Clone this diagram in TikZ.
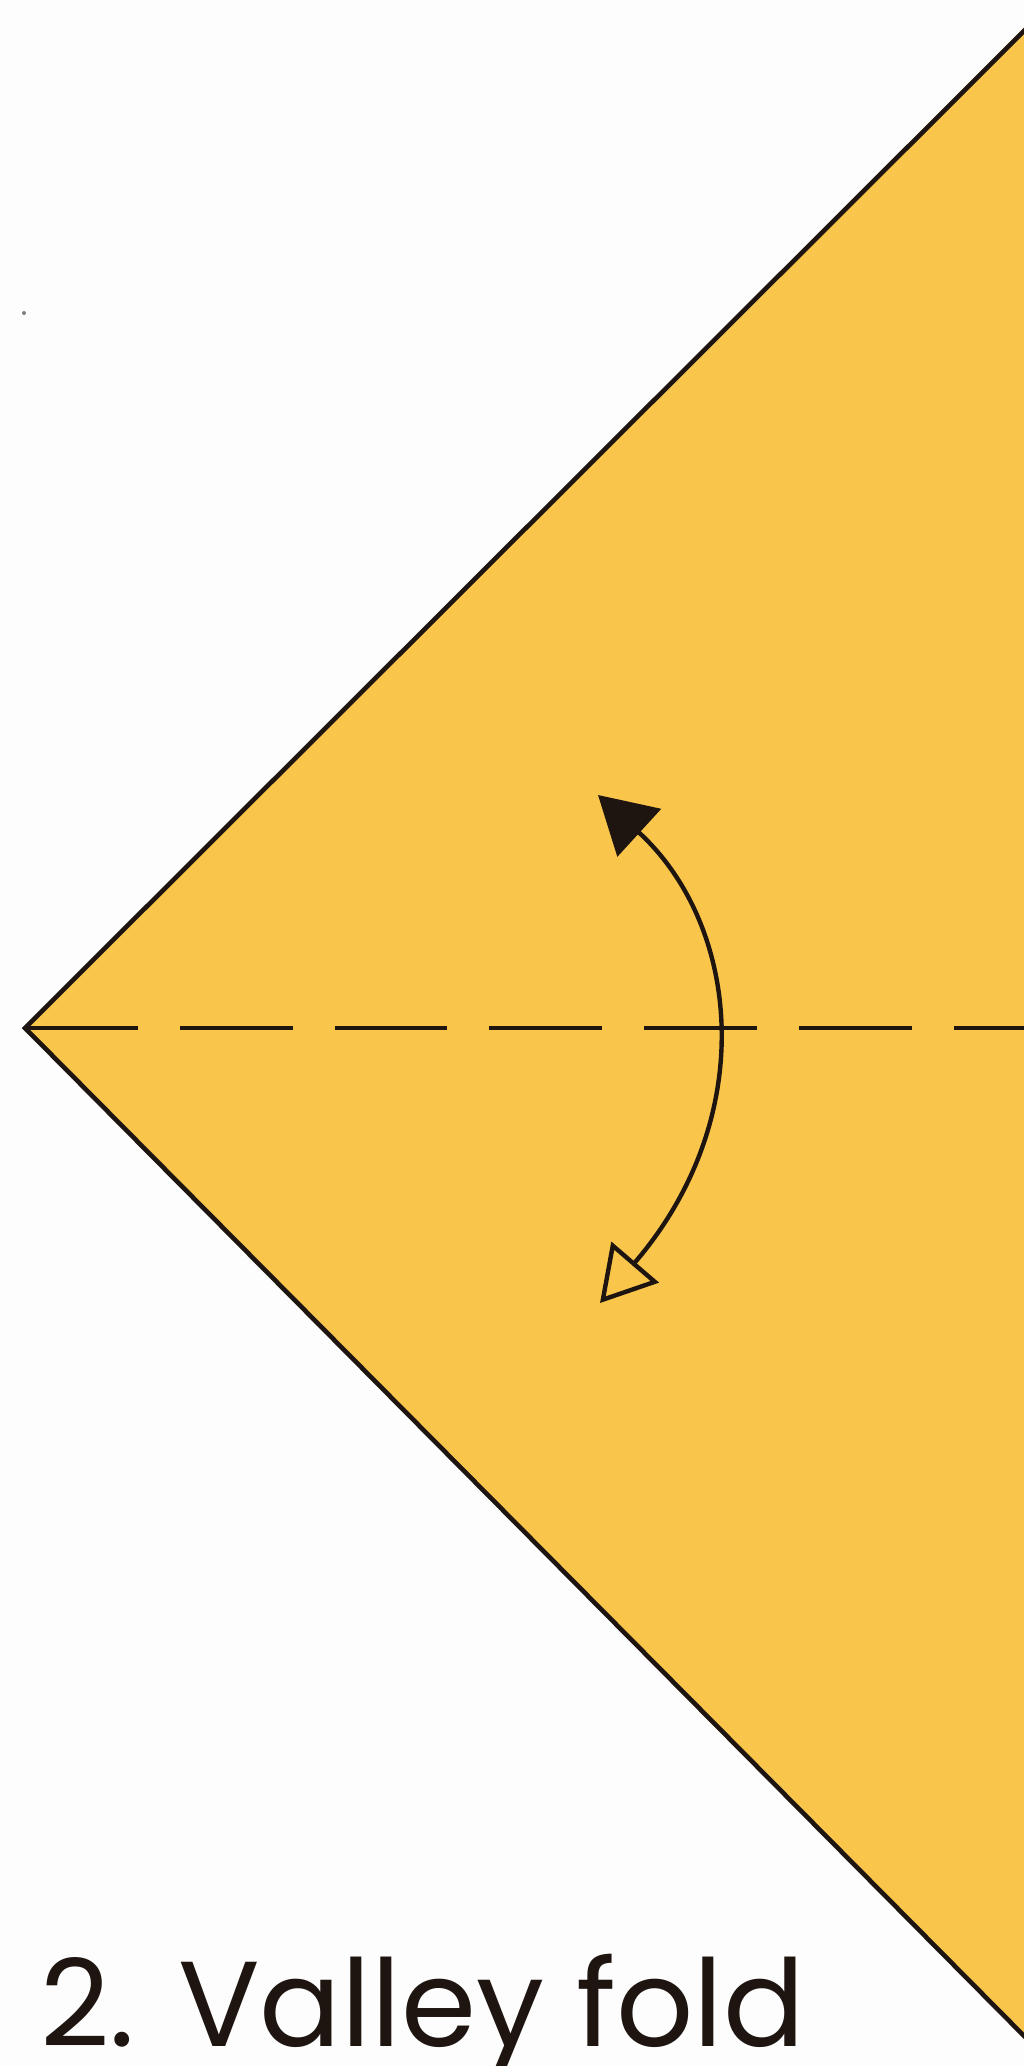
\documentclass[tikz,border=0pt]{standalone}
\usepackage{fontspec}
\setmainfont{Poppins}
\usetikzlibrary{arrows.meta}
\definecolor{cPaper}{HTML}{F9C64B}
\definecolor{cInk}{HTML}{1E1510}
\definecolor{cBack}{HTML}{FDFDFD}
\tikzset{
  edge/.style={line width=1.15mm,draw=cInk,line join=miter},
  valley/.style={line width=1.15mm,draw=cInk,dash pattern=on 28.2mm off 10.5mm},
  swing/.style={line width=1.1mm,draw=cInk,
                {Triangle[open,length=13.5mm,width=15.5mm,line width=1.1mm]}-{Triangle[length=14mm,width=16mm]}},
  caption/.style={font=\fontsize{86}{94}\selectfont,text=cInk,inner sep=0pt}
}

\begin{document}
\begin{tikzpicture}[x=0.25mm,y=-0.25mm]
  \useasboundingbox (0,0) rectangle (1024,2066);
  \fill[cBack] (0,0) rectangle (1024,2066);
  \clip (0,0) rectangle (1024,2066);

  % the folded square, seen corner first
  \coordinate (apex) at (25,1028);
  \coordinate (topend) at (1040,15);
  \coordinate (botend) at (1040,2052);
  \fill[cPaper] (apex) -- (topend) -- (botend) -- cycle;
  \draw[edge] (topend) -- (apex) -- (botend);

  % valley line
  \coordinate (foldend) at (1030,1028);
  \draw[valley] (apex) -- (foldend);

  % fold and unfold
  \coordinate (tipTop) at (598,795);
  \coordinate (tipBot) at (600,1303);
  \draw[swing] (tipBot) .. controls (760,1117) and (740,925) .. (tipTop);

  % speck
  \fill[cInk!55] (24,313) circle (2);

  \node[caption,anchor=base west] (title) at (40,2046) {2. Valley fold};
\end{tikzpicture}
\end{document}
